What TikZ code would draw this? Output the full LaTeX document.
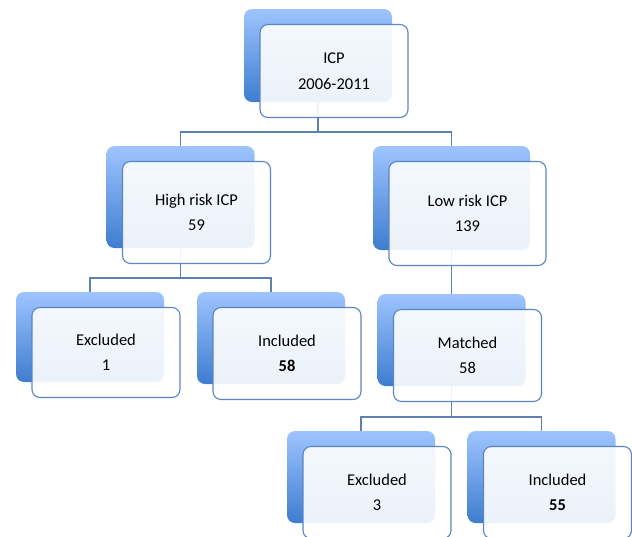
\documentclass[tikz,border=0pt]{standalone}
\usepackage{fontspec}
\setmainfont{Carlito}
\usepackage{tikz}
\usetikzlibrary{positioning}

\definecolor{cardtop}{HTML}{9EC4FF}
\definecolor{cardbottom}{HTML}{3E7DCF}
\definecolor{cardline}{HTML}{5B85C3}
\definecolor{linkline}{HTML}{5F7FAE}

\begin{document}
\begin{tikzpicture}[x=1pt,y=-1pt,
		back/.style={rounded corners=8pt, top color=cardtop, bottom color=cardbottom, inner sep=0pt},
		front/.style={draw=cardline, line width=1.1pt, rounded corners=8pt, fill=white, fill opacity=0.9, text opacity=1, align=center, inner sep=0pt, font=\fontsize{16.5}{25.5}\selectfont},
		link/.style={draw=linkline, line width=1.2pt}]

	\useasboundingbox (0,0) rectangle (632,536);

	% shaded cards behind
	\node[back, minimum width=148pt, minimum height=93pt] (icpb) at (318,55.5) {};
	\node[back, minimum width=148pt, minimum height=102pt] (hib) at (180.5,197) {};
	\node[back, minimum width=157pt, minimum height=104pt] (lob) at (451.5,198) {};
	\node[back, minimum width=148pt, minimum height=90pt] (exab) at (90,337) {};
	\node[back, minimum width=148pt, minimum height=92pt] (inab) at (271,338) {};
	\node[back, minimum width=148pt, minimum height=92pt] (matb) at (451.5,340) {};
	\node[back, minimum width=148pt, minimum height=92pt] (exbb) at (361,477) {};
	\node[back, minimum width=148pt, minimum height=92pt] (inbb) at (541.5,477) {};

	% tree links
	\coordinate (bus1) at (318,132);
	\coordinate (bus2) at (180.5,278);
	\coordinate (bus3) at (451.5,417);
	\draw[link] (icpb.south) -- (bus1);
	\draw[link] (hib.north) |- (bus1) -| (lob.north);
	\draw[link] (hib.south) -- (bus2);
	\draw[link] (exab.north) |- (bus2) -| (inab.north);
	\draw[link] (lob.south) -- (matb.north);
	\draw[link] (matb.south) -- (bus3);
	\draw[link] (exbb.north) |- (bus3) -| (inbb.north);

	% text cards in front
	\node[front, minimum width=148pt, minimum height=93pt] (icp) at ([shift={(16,15.5)}]icpb.center) {ICP\\2006-2011};
	\node[front, minimum width=148pt, minimum height=102pt] (hi) at ([shift={(16,15.5)}]hib.center) {High risk ICP\\59};
	\node[front, minimum width=157pt, minimum height=104pt] (lo) at ([shift={(16,15.5)}]lob.center) {Low risk ICP\\139};
	\node[front, minimum width=148pt, minimum height=90pt] (exa) at ([shift={(16,15.5)}]exab.center) {Excluded\\1};
	\node[front, minimum width=148pt, minimum height=92pt] (ina) at ([shift={(16,15.5)}]inab.center) {Included\\\textbf{58}};
	\node[front, minimum width=148pt, minimum height=92pt] (mat) at ([shift={(16,15.5)}]matb.center) {Matched\\58};
	\node[front, minimum width=148pt, minimum height=92pt] (exb) at ([shift={(16,15.5)}]exbb.center) {Excluded\\3};
	\node[front, minimum width=148pt, minimum height=92pt] (inb) at ([shift={(16,15.5)}]inbb.center) {Included\\\textbf{55}};

\end{tikzpicture}
\end{document}
